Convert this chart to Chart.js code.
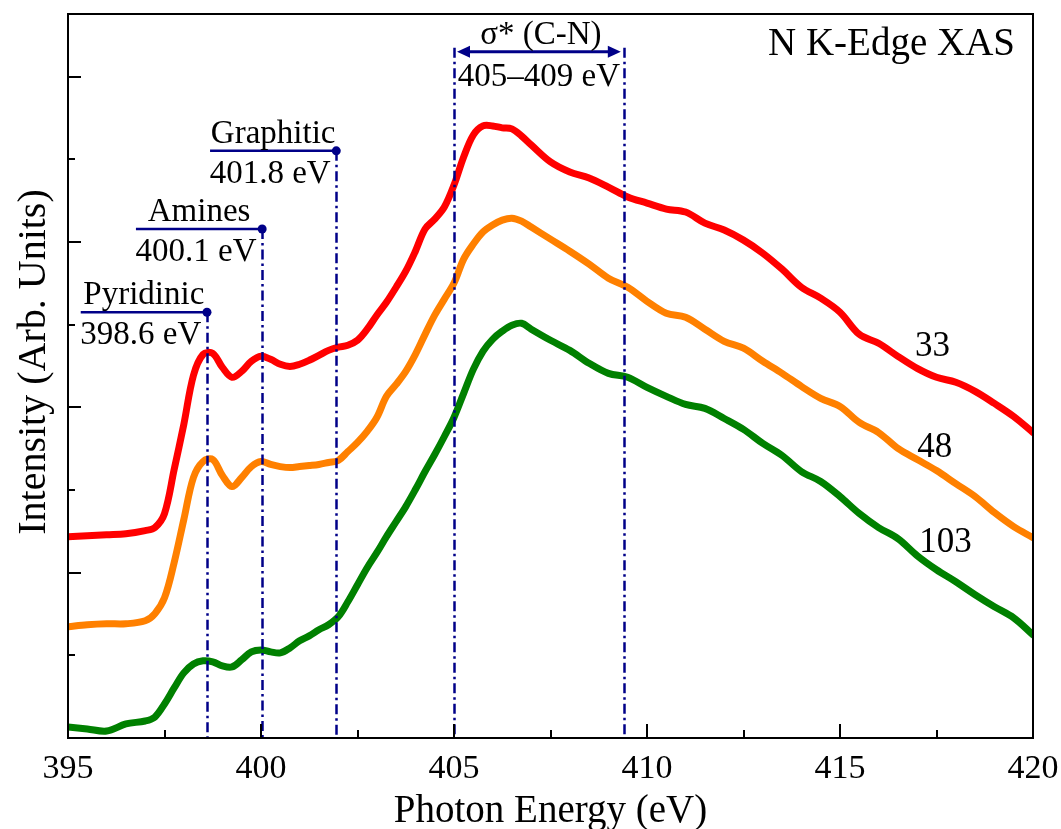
<!DOCTYPE html>
<html>
<head>
<meta charset="utf-8">
<script src="https://cdn.jsdelivr.net/npm/chart.js@4.4.0/dist/chart.umd.min.js"></script>
<style>
  html, body { margin: 0; padding: 0; background: #fff; }
  #wrap { width: 1061px; height: 829px; }
</style>
</head>
<body>
<div id="wrap"><canvas id="xasChart"></canvas></div>
<script>
// photon energy (eV), finer steps through the edge region
const energy = [
  395, 395.5, 396, 396.5, 397, 397.25, 397.5, 397.75, 398, 398.25,
  398.5, 398.75, 399, 399.25, 399.5, 399.75, 400, 400.25, 400.5, 400.75,
  401, 401.25, 401.5, 401.75, 402, 402.25, 402.5, 402.75, 403, 403.25,
  403.5, 403.75, 404, 404.25, 404.5, 404.75, 405, 405.25, 405.5, 405.75,
  406, 406.25, 406.5, 406.75, 407, 407.5, 408, 408.5, 409, 409.5,
  410, 410.5, 411, 411.5, 412, 412.5, 413, 413.5, 414, 414.5,
  415, 415.5, 416, 416.5, 417, 417.5, 418, 418.5, 419, 419.5, 420
];

// intensity, arbitrary units (curves offset vertically)
const sample33 = [
  1.218, 1.224, 1.230, 1.236, 1.255, 1.273, 1.358, 1.624, 1.897, 2.194,
  2.321, 2.327, 2.242, 2.182, 2.218, 2.279, 2.309, 2.291, 2.261, 2.248,
  2.261, 2.285, 2.315, 2.345, 2.364, 2.376, 2.406, 2.473, 2.558, 2.636,
  2.727, 2.824, 2.945, 3.079, 3.139, 3.212, 3.345, 3.515, 3.648, 3.703,
  3.703, 3.691, 3.685, 3.642, 3.588, 3.485, 3.424, 3.388, 3.333, 3.273,
  3.236, 3.200, 3.182, 3.115, 3.073, 3.012, 2.933, 2.836, 2.727, 2.661,
  2.576, 2.442, 2.388, 2.309, 2.236, 2.182, 2.152, 2.097, 2.024, 1.945, 1.848
];
const sample48 = [
  0.673, 0.685, 0.691, 0.691, 0.709, 0.752, 0.848, 1.061, 1.321, 1.576,
  1.673, 1.685, 1.588, 1.521, 1.576, 1.642, 1.673, 1.655, 1.642, 1.636,
  1.642, 1.648, 1.655, 1.667, 1.679, 1.733, 1.788, 1.855, 1.939, 2.067,
  2.139, 2.218, 2.321, 2.442, 2.558, 2.655, 2.752, 2.897, 2.988, 3.061,
  3.103, 3.133, 3.145, 3.127, 3.091, 3.018, 2.945, 2.867, 2.782, 2.727,
  2.642, 2.570, 2.545, 2.473, 2.400, 2.358, 2.279, 2.206, 2.127, 2.055,
  2.006, 1.909, 1.848, 1.752, 1.685, 1.618, 1.539, 1.461, 1.364, 1.279, 1.212
];
const sample103 = [
  0.067, 0.055, 0.042, 0.085, 0.103, 0.127, 0.206, 0.303, 0.394, 0.448,
  0.467, 0.461, 0.436, 0.430, 0.473, 0.521, 0.533, 0.521, 0.515, 0.545,
  0.588, 0.618, 0.655, 0.685, 0.733, 0.824, 0.927, 1.030, 1.121, 1.218,
  1.309, 1.400, 1.503, 1.612, 1.715, 1.824, 1.939, 2.085, 2.230, 2.339,
  2.412, 2.461, 2.497, 2.509, 2.473, 2.406, 2.345, 2.267, 2.206, 2.182,
  2.121, 2.067, 2.018, 1.994, 1.933, 1.867, 1.782, 1.709, 1.612, 1.552,
  1.461, 1.358, 1.273, 1.206, 1.103, 1.018, 0.945, 0.867, 0.794, 0.727, 0.624
];

const sampleNames = ["33", "48", "103"];
const sampleLabelAt = [[416.94, 2.309], [417.0, 1.697], [417.05, 1.127]];

const peakNames = ["Pyridinic", "Amines", "Graphitic"];
const peakTexts = ["398.6 eV", "400.1 eV", "401.8 eV"];
const peakEnergies = [398.6, 400.03, 401.95];
const peakLevels = [2.576, 3.079, 3.552];
const sigmaRange = [405.0, 409.4];
const sigmaLevel = 4.152;

const SERIF = '"Liberation Serif", "Times New Roman", serif';
const NAVY = "#000088";

function pts(ys) {
  return energy.map((e, i) => ({ x: e, y: ys[i] }));
}

const decor = {
  id: "decor",
  afterDatasetsDraw(chart) {
    const { ctx, chartArea: ca, scales: { x, y } } = chart;
    ctx.save();

    // dash-dot marker lines
    ctx.strokeStyle = NAVY;
    ctx.lineWidth = 2.5;
    ctx.setLineDash([10, 4, 2.5, 4]);
    peakEnergies.forEach((e, i) => {
      const px = Math.round(x.getPixelForValue(e)) + 0.5;
      ctx.beginPath();
      ctx.moveTo(px, y.getPixelForValue(peakLevels[i]));
      ctx.lineTo(px, ca.bottom);
      ctx.stroke();
    });
    const ay = y.getPixelForValue(sigmaLevel);
    sigmaRange.forEach((e) => {
      const px = Math.round(x.getPixelForValue(e)) + 0.5;
      ctx.beginPath();
      ctx.moveTo(px, ay - 4);
      ctx.lineTo(px, ca.bottom);
      ctx.stroke();
    });
    ctx.setLineDash([]);

    // peak labels with underline and dot
    ctx.fillStyle = "#000";
    ctx.font = "33px " + SERIF;
    ctx.textAlign = "center";
    ctx.textBaseline = "alphabetic";
    peakEnergies.forEach((e, i) => {
      const x1 = x.getPixelForValue(e);
      const x0 = x.getPixelForValue(e - 3.27);
      const py = y.getPixelForValue(peakLevels[i]);
      ctx.strokeStyle = NAVY;
      ctx.lineWidth = 2.5;
      ctx.beginPath();
      ctx.moveTo(x0, py);
      ctx.lineTo(x1, py);
      ctx.stroke();
      ctx.fillStyle = NAVY;
      ctx.beginPath();
      ctx.arc(x1, py, 4.5, 0, Math.PI * 2);
      ctx.fill();
      ctx.fillStyle = "#000";
      const cx = (x0 + x1) / 2;
      ctx.fillText(peakNames[i], cx, py - 8);
      ctx.fillText(peakTexts[i], cx - 3, py + 32);
    });

    // sigma* double arrow
    const sx0 = x.getPixelForValue(sigmaRange[0]) + 3;
    const sx1 = x.getPixelForValue(sigmaRange[1]) - 3;
    ctx.strokeStyle = NAVY;
    ctx.fillStyle = NAVY;
    ctx.lineWidth = 3;
    ctx.beginPath();
    ctx.moveTo(sx0 + 8, ay);
    ctx.lineTo(sx1 - 8, ay);
    ctx.stroke();
    [[sx0, 1], [sx1, -1]].forEach(([tx, d]) => {
      ctx.beginPath();
      ctx.moveTo(tx, ay);
      ctx.lineTo(tx + d * 13, ay - 6);
      ctx.lineTo(tx + d * 13, ay + 6);
      ctx.closePath();
      ctx.fill();
    });
    ctx.fillStyle = "#000";
    ctx.font = "33px " + SERIF;
    const scx = (sx0 + sx1) / 2;
    ctx.fillText("\u03c3* (C-N)", scx + 2, ay - 8);
    ctx.fillText("405\u2013409 eV", scx, ay + 34);

    // sample labels
    ctx.font = "35px " + SERIF;
    ctx.textAlign = "left";
    sampleNames.forEach((n, i) => {
      ctx.fillText(n, x.getPixelForValue(sampleLabelAt[i][0]), y.getPixelForValue(sampleLabelAt[i][1]));
    });

    // panel title
    ctx.font = "39px " + SERIF;
    ctx.textAlign = "right";
    ctx.fillText("N K-Edge XAS", ca.right - 18, ca.top + 41);
    ctx.restore();
  },
  afterDraw(chart) {
    const { ctx, chartArea: ca, scales: { x, y } } = chart;
    ctx.save();
    ctx.strokeStyle = "#000";
    ctx.lineWidth = 2;
    ctx.strokeRect(ca.left, ca.top, ca.right - ca.left, ca.bottom - ca.top);

    // inward ticks
    ctx.beginPath();
    for (let v = 395; v <= 420; v += 2.5) {
      const px = Math.round(x.getPixelForValue(v));
      const len = v % 5 === 0 ? 14 : 8;
      ctx.moveTo(px, ca.bottom);
      ctx.lineTo(px, ca.bottom - len);
    }
    for (let v = 0.5; v < 4.3; v += 0.5) {
      const py = Math.round(y.getPixelForValue(v));
      const len = v % 1 === 0 ? 13 : 7;
      ctx.moveTo(ca.left, py);
      ctx.lineTo(ca.left + len, py);
    }
    ctx.stroke();

    // axis titles
    ctx.fillStyle = "#000";
    ctx.font = "39px " + SERIF;
    ctx.textAlign = "center";
    ctx.textBaseline = "alphabetic";
    ctx.fillText("Photon Energy (eV)", (ca.left + ca.right) / 2, 822);
    ctx.font = "40px " + SERIF;
    ctx.translate(45, 362);
    ctx.rotate(-Math.PI / 2);
    ctx.fillText("Intensity (Arb. Units)", 0, 0);
    ctx.restore();
  }
};

const lineStyle = {
  pointRadius: 0,
  borderWidth: 7,
  fill: false,
  tension: 0.35,
  borderCapStyle: "round",
  borderJoinStyle: "round"
};

new Chart(document.getElementById("xasChart"), {
  type: "line",
  data: {
    datasets: [
      Object.assign({ label: sampleNames[2], data: pts(sample103), borderColor: "#008000" }, lineStyle),
      Object.assign({ label: sampleNames[1], data: pts(sample48), borderColor: "#ff8000" }, lineStyle),
      Object.assign({ label: sampleNames[0], data: pts(sample33), borderColor: "#ff0000" }, lineStyle)
    ]
  },
  options: {
    responsive: true,
    maintainAspectRatio: false,
    animation: false,
    layout: { padding: { left: 0, right: 28, top: 14, bottom: 0 } },
    plugins: { legend: { display: false }, tooltip: { enabled: false } },
    scales: {
      x: {
        type: "linear",
        min: 395,
        max: 420,
        grid: { display: false, drawTicks: false },
        border: { display: false },
        ticks: {
          stepSize: 5,
          autoSkip: false,
          maxRotation: 0,
          padding: 11,
          color: "#000",
          font: { family: SERIF, size: 34 }
        },
        afterFit(scale) {
          scale.height = 91;
          scale.paddingLeft = 0;
          scale.paddingRight = 0;
        }
      },
      y: {
        min: 0,
        max: 4.38,
        grid: { display: false, drawTicks: false },
        border: { display: false },
        ticks: { display: false },
        afterFit(scale) { scale.width = 68; }
      }
    }
  },
  plugins: [decor]
});
</script>
</body>
</html>
